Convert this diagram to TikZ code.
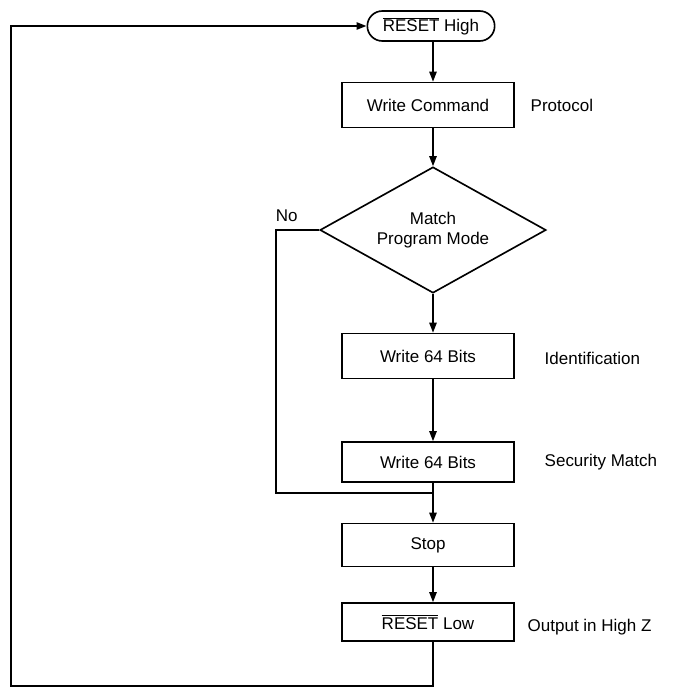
\documentclass[tikz,border=0pt]{standalone}
\usepackage{fontspec}
\setmainfont{Liberation Sans}
\usetikzlibrary{arrows.meta, shapes.geometric, shapes.misc}

\begin{document}
\begin{tikzpicture}[
    x=0.03cm, y=-0.03cm,
    line width=1.4pt,
    font=\fontsize{14.5}{16.5}\selectfont,
    stepbox/.style={draw, rectangle, minimum width=5.16cm, minimum height=1.35cm, inner sep=2pt},
    terminal/.style={draw, rounded rectangle, minimum width=3.96cm, minimum height=0.9cm, inner sep=2pt},
    decision/.style={draw, diamond, aspect=1.8, minimum width=6.78cm, minimum height=3.78cm, inner sep=0pt, align=center},
    flow/.style={draw, -{Triangle[length=0.3cm, width=0.22cm]}},
    note/.style={anchor=west}
]

% --- Rahmen ---
\useasboundingbox (0,0) rectangle (678,689);

% --- Knoten ---
\node[terminal] (reset_high) at (431,26) {$\overline{\hbox{RESET}}$ High};
\node[stepbox]  (write_cmd)  at (428,105) {Write Command};
\node[decision] (match)      at (433,230) {Match\\Program Mode};
\node[stepbox]  (write_id)   at (428,356) {Write 64 Bits};
\node[stepbox, minimum height=1.2cm] (write_sec) at (428,462) {Write 64 Bits};
\node[stepbox, minimum height=1.29cm] (stop) at (428,545) {Stop};
\node[stepbox, minimum height=1.14cm] (reset_low) at (428,622) {$\overline{\hbox{RESET}}$ Low};

% --- Beschriftungen rechts ---
\node[note] (lbl_protocol) at (526,105) {Protocol};
\node[note] (lbl_ident)    at (540,358) {Identification};
\node[note] (lbl_security) at (540,462) {Security Match};
\node[note] (lbl_output)   at (523,627) {Output in High Z};
\node[anchor=south west, inner sep=0pt] (lbl_no) at (275,222) {No};

% --- Hilfspunkte ---
\coordinate (no_top)   at (276,230);
\coordinate (no_bot)   at (276,493);
\coordinate (join)     at (433,493);
\coordinate (loop_br)  at (433,686);
\coordinate (loop_bl)  at (11,686);
\coordinate (loop_tl)  at (11,26);

% --- Verbindungen ---
\draw[flow] (reset_high.south -| join) -- (write_cmd.north -| join);
\draw[flow] (write_cmd.south -| join) -- (match.north);
\draw[flow] (match.south) -- (write_id.north -| join);
\draw[flow] (write_id.south -| join) -- (write_sec.north -| join);
\draw[flow] (write_sec.south -| join) -- (stop.north -| join);
\draw[flow] (stop.south -| join) -- (reset_low.north -| join);

% Nein-Zweig
\draw (match.west) -- (no_top) -- (no_bot) -- (join);

% Rueckfuehrung
\draw[flow] (reset_low.south -| join) -- (loop_br) -- (loop_bl) -- (loop_tl) -- (reset_high.west);

\end{tikzpicture}
\end{document}
